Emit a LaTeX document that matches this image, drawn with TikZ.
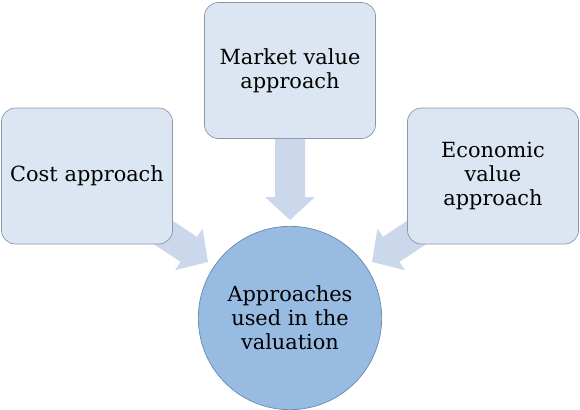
\documentclass[tikz,border=0pt]{standalone}
\usepackage{fontspec}
\setmainfont{DejaVu Serif}
\definecolor{boxfill}{RGB}{220,230,242}
\definecolor{boxline}{RGB}{140,152,170}
\definecolor{arrowfill}{RGB}{203,216,236}
\definecolor{circfill}{RGB}{152,187,226}
\definecolor{circline}{RGB}{105,135,175}
\begin{document}
\begin{tikzpicture}[x=0.03cm,y=-0.03cm,
  srcbox/.style={draw=boxline, line width=0.6pt, fill=boxfill, rounded corners=0.42cm,
    minimum width=5.1cm, minimum height=4.08cm, align=center, text width=4.9cm,
    font=\fontsize{17.8}{20.5}\selectfont},
  target/.style={draw=circline, line width=0.6pt, fill=circfill, circle, minimum size=5.5cm,
    align=center, font=\fontsize{17.8}{20.5}\selectfont, inner sep=0pt},
  blockarrow/.style={fill=arrowfill}]
\useasboundingbox (0,0) rectangle (580,409);
% block arrows (drawn first, under the boxes)
\coordinate (tl) at (208,262);
\coordinate (tt) at (290,220);
\coordinate (tr) at (372,262);
\foreach \t/\a in {tl/-33.4, tt/-90, tr/-146.6}{
  \begin{scope}[shift={(\t)}, rotate=\a]
    \fill[blockarrow] (0,0) -- (-23,25) -- (-23,15) -- (-110,15) -- (-110,-15)
      -- (-23,-15) -- (-23,-25) -- cycle;
  \end{scope}
}
\node[srcbox] (cost) at (87,176) {Cost approach};
\node[srcbox] (market) at (290,70.5) {Market value\\approach};
\node[srcbox] (econ) at (493,176) {Economic\\value\\approach};
\node[target] (val) at (290,318) {Approaches\\used in the\\valuation};
\end{tikzpicture}
\end{document}
